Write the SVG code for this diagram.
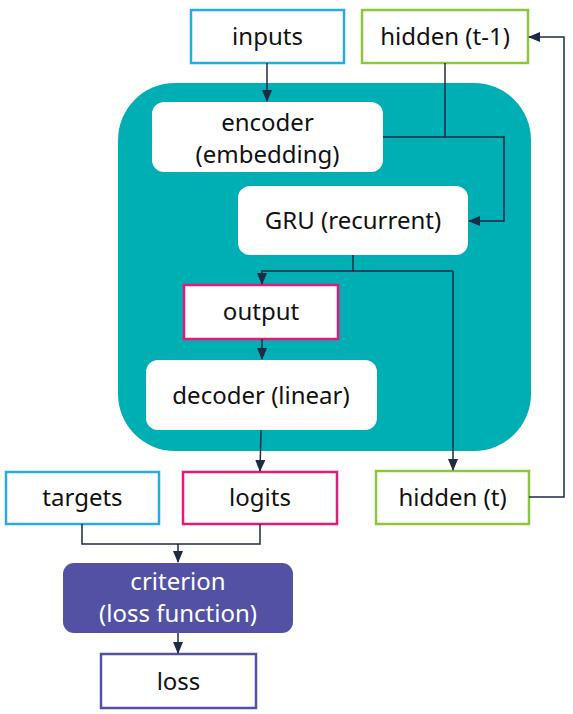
<svg xmlns="http://www.w3.org/2000/svg" width="573" height="714" viewBox="0 0 573 714">
<defs>
<marker id="arr" markerWidth="12" markerHeight="10" refX="11" refY="5" orient="auto" markerUnits="userSpaceOnUse">
<path d="M0,0 L12,5 L0,10 Z" fill="#1F2A44"/>
</marker>
<style>
text{font-family:"Noto Sans","Open Sans","DejaVu Sans",sans-serif;font-size:24px;fill:#111;text-anchor:middle}
.box{fill:#fff;stroke-width:2.5}
.blue{stroke:#29ABE2}
.green{stroke:#8CC63F}
.pink{stroke:#E8177A}
.purple{stroke:#5351A3}
.inner{fill:#fff}
.conn{fill:none;stroke:#1F2A44;stroke-width:1.5}
.wt{fill:#fff}
</style>
</defs>
<rect id="rnn" x="118" y="83" width="413" height="368" rx="57" ry="57" fill="#00AFB3"/>
<g id="inputs"><rect class="box blue" x="191" y="10" width="153" height="53"/><text x="267.5" y="45">inputs</text></g>
<g id="hidden_prev"><rect class="box green" x="362" y="10" width="166" height="53"/><text x="445" y="45">hidden (t-1)</text></g>
<g id="encoder"><rect class="inner" x="152" y="102" width="231" height="70" rx="12"/><text x="267.5" y="131">encoder</text><text x="267.5" y="163">(embedding)</text></g>
<g id="gru"><rect class="inner" x="238" y="186" width="230" height="69" rx="12"/><text x="353" y="229">GRU (recurrent)</text></g>
<g id="output"><rect class="box pink" x="184" y="285" width="154" height="54"/><text x="261" y="320">output</text></g>
<g id="decoder"><rect class="inner" x="146" y="360" width="231" height="70" rx="12"/><text x="261" y="404">decoder (linear)</text></g>
<g id="targets"><rect class="box blue" x="6" y="472" width="153" height="52"/><text x="82.5" y="506">targets</text></g>
<g id="logits"><rect class="box pink" x="183" y="472" width="154" height="52"/><text x="260" y="506">logits</text></g>
<g id="hidden_t"><rect class="box green" x="376" y="471" width="153" height="53"/><text x="452.5" y="506">hidden (t)</text></g>
<g id="criterion"><rect x="63" y="563" width="230" height="70" rx="11" fill="#5351A3"/><text class="wt" x="178" y="590">criterion</text><text class="wt" x="178" y="622">(loss function)</text></g>
<g id="loss"><rect class="box purple" x="101" y="654" width="155" height="54"/><text x="178.5" y="690">loss</text></g>
<g id="connectors">
<path class="conn" d="M267,63 V101" marker-end="url(#arr)"/>
<path class="conn" d="M445,63 V137"/>
<path class="conn" d="M383,137 H504 V221 H469" marker-end="url(#arr)"/>
<path class="conn" d="M353,255 V271"/>
<path class="conn" d="M453,271 H262 V284" marker-end="url(#arr)"/>
<path class="conn" d="M453,271 V470" marker-end="url(#arr)"/>
<path class="conn" d="M262,339 V359" marker-end="url(#arr)"/>
<path class="conn" d="M261,430 L260,471" marker-end="url(#arr)"/>
<path class="conn" d="M529,497 H564 V37 H529" marker-end="url(#arr)"/>
<path class="conn" d="M82,524 V544 H260 V524"/>
<path class="conn" d="M178,544 V562" marker-end="url(#arr)"/>
<path class="conn" d="M178,633 V653" marker-end="url(#arr)"/>
</g>
</svg>
